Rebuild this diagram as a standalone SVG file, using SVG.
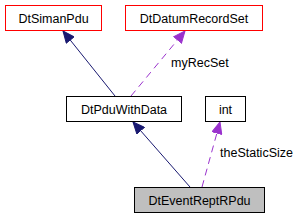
<svg xmlns="http://www.w3.org/2000/svg" width="304" height="219" viewBox="0 0 304 219">
<style>
.box{fill:#fff;stroke:#000;stroke-width:1}
.red{stroke:#ff0000}
.main{fill:#bfbfbf}
text{font-family:"Liberation Sans",Arial,sans-serif;font-size:12.5px;fill:#000}
.lbl{text-anchor:middle}
.inh{stroke:#191970;stroke-width:1;fill:none}
.use{stroke:#9a32cd;stroke-width:1;fill:none;stroke-dasharray:7,5}
</style>
<defs>
<marker id="ah" markerWidth="13" markerHeight="11" refX="12" refY="5.5" orient="auto" markerUnits="userSpaceOnUse" viewBox="0 0 13 11"><path d="M0.5,0.5 L12,5.5 L0.5,10.5 z" fill="#191970" stroke="#191970"/></marker>
<marker id="au" markerWidth="13" markerHeight="11" refX="12" refY="5.5" orient="auto" markerUnits="userSpaceOnUse" viewBox="0 0 13 11"><path d="M0.5,0.5 L12,5.5 L0.5,10.5 z" fill="#9a32cd" stroke="#9a32cd"/></marker>
</defs>
<g id="edges">
<path class="inh" d="M115,96 L63,31" marker-end="url(#ah)"/>
<path class="use" d="M131,96 L185,31" marker-end="url(#au)"/>
<text x="171" y="67">myRecSet</text>
<path class="inh" d="M190,187 L133,122" marker-end="url(#ah)"/>
<path class="use" d="M202,187 L220,122" marker-end="url(#au)"/>
<text x="220" y="157">theStaticSize</text>
</g>
<g id="DtSimanPdu"><rect class="box red" x="5.5" y="5.5" width="96" height="25"/><text class="lbl" x="53.5" y="22.5">DtSimanPdu</text></g>
<g id="DtDatumRecordSet"><rect class="box red" x="125.5" y="5.5" width="137" height="25"/><text class="lbl" x="194" y="22.5">DtDatumRecordSet</text></g>
<g id="DtPduWithData"><rect class="box" x="66.5" y="96.5" width="115" height="25"/><text class="lbl" x="124" y="113.5">DtPduWithData</text></g>
<g id="int"><rect class="box" x="205.5" y="96.5" width="40" height="25"/><text class="lbl" x="225.5" y="113.5">int</text></g>
<g id="DtEventReptRPdu"><rect class="box main" x="134.5" y="187.5" width="130" height="25"/><text class="lbl" x="199.5" y="204.5">DtEventReptRPdu</text></g>
</svg>
